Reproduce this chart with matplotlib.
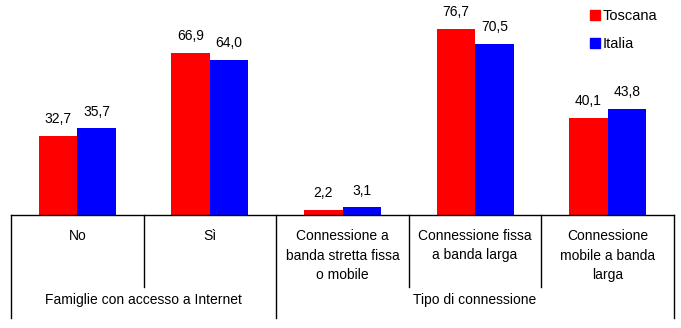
import numpy as np
import matplotlib.pyplot as plt
from matplotlib.patches import Patch

# Dati
categorie = ['No', 'Sì', 'Connessione a\nbanda stretta fissa\no mobile',
             'Connessione fissa\na banda larga', 'Connessione\nmobile a banda\nlarga']
gruppi = ['Famiglie con accesso a Internet', 'Tipo di connessione']
gruppi_span = [(0, 1), (2, 4)]
toscana = [32.7, 66.9, 2.2, 76.7, 40.1]
italia = [35.7, 64.0, 3.1, 70.5, 43.8]

plt.rcParams['font.family'] = ['Liberation Sans', 'DejaVu Sans']

W, H = 681, 328
fig = plt.figure(figsize=(W / 100, H / 100), dpi=100)
base = 215  # pixel y of the baseline
ax = fig.add_axes([11 / W, (H - base) / H, 663 / W, base / H])

x = np.arange(len(categorie))
w = 0.29
b1 = ax.bar(x - w / 2, toscana, w, color='#ff0000', label='Toscana')
b2 = ax.bar(x + w / 2, italia, w, color='#0000ff', label='Italia')

for bars, vals in [(b1, toscana), (b2, italia)]:
    for r, v in zip(bars, vals):
        ax.annotate(f'{v:.1f}'.replace('.', ','), (r.get_x() + r.get_width() / 2, v),
                    xytext=(0, 12), textcoords='offset points',
                    ha='center', va='center', fontsize=10)

ax.set_xlim(-0.5, len(categorie) - 0.5)
ax.set_ylim(0, base / 2.425)
for s in ['top', 'right', 'left']:
    ax.spines[s].set_visible(False)
ax.spines['bottom'].set_linewidth(1)
ax.set_xticks([])
ax.set_yticks([])


def fy(py):
    # pixel y -> axes fraction
    return (base - py) / base


tr = ax.get_xaxis_transform()
# divisori della tabella
for xd in np.arange(-0.5, len(categorie), 1.0):
    lungo = xd in (-0.5, 1.5, len(categorie) - 0.5)
    y_end = 318 if lungo else 287
    ax.plot([xd, xd], [0, fy(y_end)], color='black', lw=1, transform=tr, clip_on=False)

for i, c in enumerate(categorie):
    ax.text(i, fy(229), c, transform=tr, ha='center', va='top', fontsize=10,
            linespacing=1.5)

for g, (a, b) in zip(gruppi, gruppi_span):
    ax.text((a + b) / 2, fy(300), g, transform=tr, ha='center', va='center', fontsize=10)

handles = [Patch(color='#ff0000', label='Toscana'), Patch(color='#0000ff', label='Italia')]
fig.legend(handles=handles, loc='upper left', bbox_to_anchor=(584 / W, 1 - 3 / H),
           frameon=False, fontsize=10.5, handlelength=0.68, handleheight=0.68,
           handletextpad=0.2, labelspacing=1.0, borderaxespad=0)

fig.savefig('out.png', dpi=100)
